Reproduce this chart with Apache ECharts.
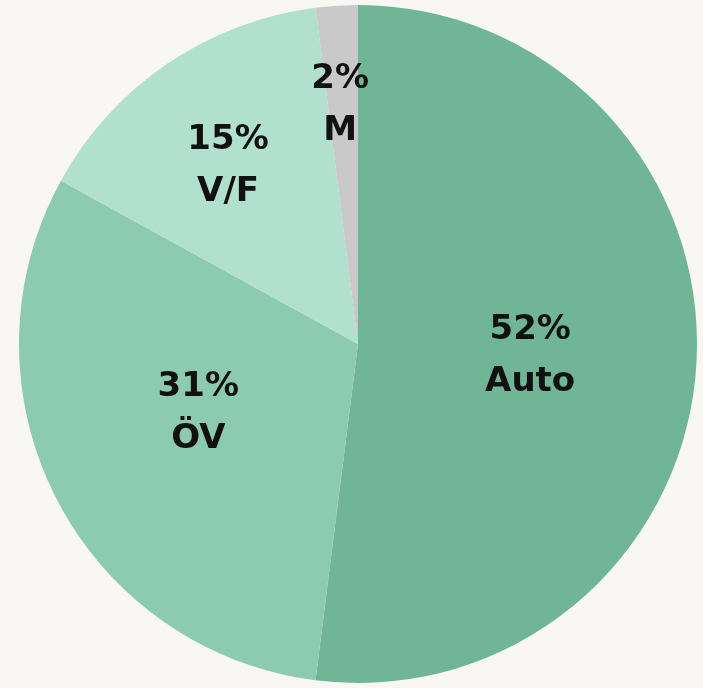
<!DOCTYPE html>
<html lang="de">
<head>
<meta charset="UTF-8" />
<title>Modal Split</title>
<style>
  html, body { margin: 0; padding: 0; background: #f8f7f3; }
  #chart { width: 703px; height: 688px; }
</style>
</head>
<body>
<div id="chart"></div>
<script src="https://cdn.jsdelivr.net/npm/echarts@6/dist/echarts.min.js"></script>
<script>
  const names = ["Auto", "ÖV", "V/F", "M"];
  const shares = [52, 31, 15, 2];
  const colors = ["#6fb596", "#8dcbb0", "#b2e0ce", "#c9c9c9"];
  // extra label shift for the narrow slices near the top
  const labelShift = [[0, 1], [-6, -9], [-33, -35], [-7, -67]];

  const chart = echarts.init(document.getElementById("chart"));
  chart.setOption({
    backgroundColor: "#f8f7f3",
    animation: false,
    series: [{
      type: "pie",
      center: [358, 344],
      radius: 339,
      startAngle: 90,
      clockwise: true,
      label: {
        position: "inside",
        formatter: "{c}%\n{b}",
        color: "#111",
        fontFamily: "DejaVu Sans",
        fontWeight: "bold",
        fontSize: 34,
        lineHeight: 52
      },
      labelLine: { show: false },
      labelLayout: (p) => ({ dx: labelShift[p.dataIndex][0], dy: labelShift[p.dataIndex][1] }),
      itemStyle: { borderWidth: 0 },
      emphasis: { disabled: true },
      data: names.map((n, i) => ({ name: n, value: shares[i], itemStyle: { color: colors[i] } }))
    }]
  });
</script>
</body>
</html>
